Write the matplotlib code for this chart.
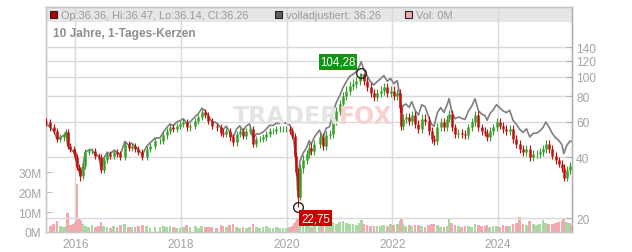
import matplotlib
matplotlib.use("Agg")
import matplotlib.pyplot as plt
from matplotlib.patches import Rectangle
import numpy as np
import pandas as pd

dates = [
    "2015-06-08", "2015-07-12", "2015-08-04", "2015-08-27", "2015-09-19", "2015-10-12", "2015-10-28", "2015-11-08",
    "2015-11-27", "2015-12-20", "2016-01-01", "2016-01-12", "2016-01-24", "2016-02-04", "2016-02-22", "2016-03-10",
    "2016-04-02", "2016-04-25", "2016-05-18", "2016-06-10", "2016-06-26", "2016-07-15", "2016-08-07", "2016-08-30",
    "2016-09-22", "2016-10-15", "2016-11-07", "2016-12-07", "2017-01-04", "2017-01-24", "2017-02-16", "2017-03-11",
    "2017-04-08", "2017-05-08", "2017-05-31", "2017-07-05", "2017-08-08", "2017-09-01", "2017-09-24", "2017-10-16",
    "2017-11-08", "2017-12-01", "2017-12-24", "2018-01-17", "2018-02-09", "2018-03-04", "2018-04-08", "2018-05-01",
    "2018-05-24", "2018-06-16", "2018-07-09", "2018-08-01", "2018-09-04", "2018-10-04", "2018-10-18", "2018-11-10",
    "2018-12-03", "2018-12-26", "2019-01-19", "2019-02-10", "2019-03-05", "2019-03-28", "2019-04-20", "2019-05-13",
    "2019-06-05", "2019-06-28", "2019-07-21", "2019-08-13", "2019-09-05", "2019-09-28", "2019-10-21", "2019-11-13",
    "2019-12-06", "2019-12-30", "2020-01-22", "2020-02-10", "2020-02-26", "2020-03-08", "2020-03-16", "2020-03-31",
    "2020-04-23", "2020-05-17", "2020-06-04", "2020-06-18", "2020-07-11", "2020-08-15", "2020-09-07", "2020-09-30",
    "2020-10-23", "2020-11-15", "2020-12-08", "2021-01-01", "2021-01-24", "2021-02-16", "2021-03-11", "2021-04-03",
    "2021-04-26", "2021-05-19", "2021-05-30", "2021-06-17", "2021-07-10", "2021-08-03", "2021-08-26", "2021-09-17",
    "2021-10-11", "2021-11-03", "2021-11-26", "2021-12-19", "2022-01-11", "2022-02-03", "2022-02-22", "2022-03-03",
    "2022-03-16", "2022-04-04", "2022-04-27", "2022-05-15", "2022-06-07", "2022-06-30", "2022-07-23", "2022-08-15",
    "2022-09-08", "2022-09-30", "2022-10-16", "2022-11-08", "2022-12-01", "2022-12-24", "2023-01-17", "2023-01-28",
    "2023-02-16", "2023-03-10", "2023-04-03", "2023-04-25", "2023-05-18", "2023-06-10", "2023-07-04", "2023-07-26",
    "2023-08-19", "2023-09-11", "2023-10-04", "2023-10-18", "2023-11-06", "2023-11-28", "2023-12-22", "2024-01-13",
    "2024-02-05", "2024-02-28", "2024-03-22", "2024-04-14", "2024-05-08", "2024-05-31", "2024-06-23", "2024-07-16",
    "2024-08-08", "2024-09-01", "2024-09-24", "2024-10-16", "2024-11-08", "2024-11-27", "2024-12-18", "2025-01-10",
    "2025-02-02", "2025-02-25", "2025-03-19", "2025-03-31", "2025-04-19", "2025-05-12", "2025-05-26",
]
close = [
    59.5, 56.2, 54.0, 49.2, 50.2, 51.2, 53.4, 45.6, 44.0, 42.4, 40.0, 35.9, 34.6, 32.4, 36.4, 42.4,
    43.1, 43.1, 40.8, 40.0, 34.6, 39.0, 41.5, 40.8, 42.4, 41.5, 40.0, 46.6, 44.7, 45.6, 44.0, 42.4,
    40.0, 44.0, 45.6, 48.0, 48.0, 51.3, 54.0, 56.2, 55.0, 57.4, 58.4, 59.5, 56.2, 57.4, 60.6, 63.0,
    66.7, 65.0, 60.6, 57.4, 56.2, 53.0, 52.0, 54.0, 50.2, 47.4, 52.0, 54.0, 51.0, 54.0, 55.2, 46.6,
    49.2, 49.2, 50.2, 52.0, 54.0, 54.0, 55.2, 55.2, 55.2, 55.2, 54.0, 51.0, 40.8, 34.0, 25.5, 35.3,
    39.0, 41.5, 44.7, 43.0, 46.6, 50.2, 45.6, 51.3, 52.0, 60.6, 67.8, 73.4, 80.2, 85.4, 90.4, 92.5,
    95.0, 101.0, 103.0, 95.0, 88.5, 82.8, 79.7, 82.8, 85.4, 88.5, 82.8, 85.4, 80.2, 82.8, 69.7, 57.3,
    62.0, 63.0, 60.6, 64.5, 58.4, 55.2, 62.0, 60.6, 54.0, 49.2, 48.2, 56.2, 59.5, 56.2, 62.0, 65.5,
    56.2, 52.0, 53.0, 52.0, 51.3, 56.2, 59.5, 64.5, 56.2, 54.0, 53.0, 50.2, 54.0, 56.2, 59.5, 57.4,
    55.2, 54.0, 55.2, 49.2, 46.6, 44.0, 42.4, 44.0, 40.0, 41.5, 41.5, 42.4, 44.0, 46.6, 44.0, 40.8,
    38.6, 37.2, 35.3, 31.8, 34.6, 36.4, 36.26,
]
high = [
    62.4, 61.6, 58.2, 55.9, 52.0, 53.0, 55.3, 55.3, 47.2, 45.5, 43.9, 41.4, 37.2, 35.8, 37.7, 43.9,
    44.6, 44.6, 44.6, 42.2, 41.4, 40.4, 43.0, 43.0, 43.9, 43.9, 43.0, 48.2, 48.2, 47.2, 47.2, 45.5,
    43.9, 45.5, 47.2, 49.7, 49.7, 53.1, 55.9, 58.2, 58.2, 59.4, 60.4, 61.6, 61.6, 59.4, 62.7, 65.2,
    69.0, 69.0, 67.3, 62.7, 59.4, 58.2, 54.9, 55.9, 55.9, 52.0, 53.8, 55.9, 55.9, 55.9, 57.1, 57.1,
    50.9, 50.9, 52.0, 53.8, 55.9, 55.9, 57.1, 57.1, 57.1, 57.1, 57.1, 55.9, 52.8, 42.6, 35.5, 37.0,
    41.0, 43.6, 46.9, 46.9, 48.9, 52.7, 52.7, 53.9, 54.6, 63.6, 71.2, 77.1, 84.2, 89.7, 94.9, 97.1,
    99.8, 104.0, 104.28, 104.0, 99.8, 92.9, 86.9, 86.9, 89.7, 92.9, 92.9, 89.7, 89.7, 86.9, 86.9, 73.2,
    65.1, 66.2, 66.2, 67.7, 67.7, 61.3, 65.1, 65.1, 63.6, 56.7, 51.7, 59.0, 62.2, 62.2, 64.8, 68.4,
    68.4, 58.7, 55.4, 55.4, 54.3, 58.7, 62.2, 67.4, 67.4, 58.7, 56.4, 55.4, 56.4, 58.7, 62.2, 62.2,
    60.0, 57.7, 57.7, 57.7, 51.4, 48.7, 46.0, 46.0, 46.0, 43.4, 43.4, 44.3, 46.0, 48.7, 48.7, 46.0,
    42.6, 40.3, 38.9, 36.9, 36.2, 38.0, 36.47,
]
low = [
    57.3, 54.2, 52.1, 47.5, 47.5, 48.4, 49.4, 44.0, 42.5, 40.9, 38.6, 34.6, 33.4, 30.5, 31.3, 35.1,
    40.9, 41.6, 39.4, 38.6, 33.4, 33.4, 37.6, 39.4, 39.4, 40.0, 38.6, 38.6, 43.1, 43.1, 42.5, 40.9,
    38.6, 38.6, 42.5, 44.0, 46.3, 46.3, 49.5, 52.1, 53.1, 53.1, 55.4, 56.4, 54.2, 54.2, 55.4, 58.5,
    60.8, 62.7, 58.5, 55.4, 54.2, 51.1, 50.2, 50.2, 48.4, 45.7, 45.7, 50.2, 49.2, 49.2, 52.1, 45.0,
    45.0, 47.5, 47.5, 48.4, 50.2, 52.1, 52.1, 53.3, 53.3, 53.3, 52.1, 49.2, 39.0, 32.3, 22.75, 24.5,
    33.5, 37.1, 39.6, 41.1, 41.1, 44.5, 43.5, 43.5, 49.0, 49.7, 57.9, 64.7, 70.1, 76.6, 81.6, 86.3,
    88.3, 90.7, 96.5, 90.7, 84.5, 79.1, 76.1, 76.1, 79.1, 81.6, 79.1, 79.1, 76.6, 76.6, 66.6, 54.7,
    54.7, 59.2, 57.9, 57.9, 55.8, 52.7, 52.7, 57.9, 51.6, 47.0, 46.0, 46.0, 54.0, 54.0, 54.0, 59.5,
    54.0, 49.9, 49.9, 49.9, 49.2, 49.2, 54.0, 57.1, 54.0, 51.8, 50.9, 48.2, 48.2, 51.8, 54.0, 55.1,
    53.0, 51.8, 51.8, 47.2, 44.7, 42.2, 40.7, 40.7, 38.4, 38.4, 39.8, 39.8, 40.7, 42.2, 42.2, 39.2,
    37.1, 35.7, 33.9, 30.5, 30.5, 33.2, 36.14,
]
adjusted = [
    59.5, 56.2, 54.0, 49.2, 50.2, 51.2, 53.4, 45.6, 44.0, 42.4, 40.0, 35.9, 34.6, 32.4, 36.4, 42.6,
    43.4, 43.5, 41.3, 40.5, 35.1, 39.6, 42.2, 41.6, 43.3, 42.5, 41.1, 47.9, 46.0, 47.0, 45.3, 43.7,
    41.2, 45.4, 47.1, 49.8, 49.9, 53.4, 56.2, 58.4, 57.2, 59.7, 60.7, 62.0, 58.6, 59.9, 63.4, 65.9,
    69.8, 68.0, 63.6, 60.3, 59.0, 55.9, 54.9, 57.0, 53.0, 50.1, 55.0, 57.2, 54.1, 57.2, 58.5, 49.4,
    52.2, 52.2, 53.3, 55.2, 57.5, 57.5, 58.8, 58.8, 59.0, 59.0, 57.8, 54.6, 43.7, 36.4, 27.3, 37.9,
    41.9, 44.6, 48.3, 46.4, 50.4, 54.5, 49.5, 55.7, 56.6, 66.1, 74.2, 80.4, 88.2, 94.4, 100.3, 102.7,
    106.0, 113.1, 118.4, 108.3, 101.0, 94.4, 91.0, 94.6, 97.6, 101.2, 94.9, 98.0, 92.4, 95.6, 80.8, 66.5,
    72.0, 73.3, 70.6, 75.2, 68.2, 64.6, 72.7, 71.1, 63.5, 58.0, 56.9, 66.4, 70.4, 66.6, 73.6, 77.9,
    66.9, 62.0, 63.3, 62.3, 61.5, 67.5, 71.6, 77.8, 67.9, 65.3, 64.2, 60.9, 65.7, 68.5, 72.7, 70.3,
    67.8, 66.5, 68.2, 61.0, 58.0, 54.9, 53.1, 55.3, 50.4, 52.5, 52.6, 53.9, 56.2, 59.7, 56.5, 52.6,
    50.0, 48.4, 46.1, 41.7, 45.5, 48.1, 47.9,
]
volume_m = [
    3.5, 2.8, 4.0, 5.5, 3.2, 2.6, 3.0, 9.5, 3.4, 4.2, 5.0, 24.0, 6.5, 5.8, 4.1, 3.0,
    2.7, 3.3, 2.5, 3.0, 5.2, 3.1, 2.4, 2.2, 2.9, 2.6, 3.5, 3.8, 2.7, 2.5, 2.4, 3.0,
    3.6, 2.8, 2.2, 2.6, 2.3, 2.9, 2.4, 3.1, 2.5, 2.2, 2.0, 2.6, 3.4, 2.3, 2.8, 2.2,
    3.0, 2.5, 2.7, 2.4, 2.0, 3.5, 2.8, 2.6, 3.3, 3.9, 2.5, 2.2, 2.6, 2.0, 2.3, 4.0,
    2.4, 2.1, 2.5, 2.8, 2.2, 2.0, 2.3, 1.9, 2.1, 2.0, 2.4, 2.8, 4.5, 5.5, 7.0, 4.8,
    3.5, 3.0, 3.3, 2.7, 2.8, 3.1, 2.9, 3.6, 3.2, 5.0, 4.2, 4.8, 5.5, 4.6, 4.0, 3.8,
    3.5, 4.4, 6.0, 4.1, 3.6, 3.2, 2.8, 3.1, 2.9, 3.4, 3.0, 3.8, 3.3, 3.9, 5.5, 6.5,
    4.0, 3.2, 3.5, 2.9, 3.3, 3.6, 2.8, 2.6, 3.4, 4.0, 3.8, 3.3, 2.7, 2.5, 3.2, 6.5,
    4.5, 3.6, 2.9, 2.6, 2.8, 3.0, 2.7, 3.9, 3.4, 2.8, 3.1, 3.5, 2.6, 2.9, 3.2, 2.7,
    3.3, 3.0, 2.9, 3.8, 4.5, 7.5, 4.0, 3.6, 5.5, 3.8, 3.5, 4.2, 5.8, 4.6, 4.0, 3.9,
    4.4, 5.0, 5.6, 7.0, 5.2, 4.6, 3.5,
]
first_open = 60.2

high_date, high_val, high_label = "2021-05-30", 104.28, "104,28"
low_date, low_val, low_label = "2020-03-16", 22.75, "22,75"

year_ticks = ["2016-01-01", "2018-01-01", "2020-01-01", "2022-01-01", "2024-01-01"]
year_labels = ["2016", "2018", "2020", "2022", "2024"]
price_ticks = [20, 40, 60, 80, 100, 120, 140]
vol_ticks = [0, 10, 20, 30]
vol_labels = ["0M", "10M", "20M", "30M"]

legend_ohlc = "Op:36.36, Hi:36.47, Lo:36.14, Cl:36.26"
legend_adj = "volladjustiert: 36.26"
legend_vol = "Vol: 0M"
subtitle = "10 Jahre, 1-Tages-Kerzen"

plt.rcParams['font.family'] = ['Liberation Sans', 'DejaVu Sans']

W, H = 632, 253
RED = '#c40d0d'
GREEN = '#36a12a'
TICK = '#a3a3a3'
GRID = '#dadada'


def fx(x):
    return x / W


def fy(y):
    return 1 - y / H


d = pd.to_datetime(dates)
c = np.array(close)
o = np.array([first_open] + close[:-1])
up = c >= o
body_lo = np.minimum(o, c)
body_hi = np.maximum(o, c)
ccol = np.where(up, GREEN, RED)

fig = plt.figure(figsize=(W / 100, H / 100), dpi=100)
ax = fig.add_axes([fx(45.5), fy(233), fx(572 - 45.5), (233 - 8) / H])

# Volumen (linke Achse)
vcol = np.where(up, '#a9d9a2', '#f2a9ad')
ax.bar(d, volume_m, width=19, color=vcol, linewidth=0, zorder=1)
ax.set_ylim(0, 112.5)
ax.set_yticks(vol_ticks)
ax.set_yticklabels(vol_labels)
ax.set_axisbelow(True)
ax.grid(axis='x', color=GRID, linewidth=1, zorder=0.5)

# Kopfzeile
ax.add_patch(Rectangle((0, 1 - 15 / 225), 1, 15 / 225, transform=ax.transAxes,
                       facecolor='#e6e6e6', edgecolor='none', zorder=0.2))

# Kurs (rechte Achse, logarithmisch)
axp = ax.twinx()
axp.set_yscale('log')
axp.set_ylim(17.12, 220.7)
axp.grid(axis='y', color=GRID, linewidth=1)
axp.set_axisbelow(True)
axp.plot(d, adjusted, color='#7e7e7e', linewidth=1.2, zorder=2)
axp.vlines(d, low, high, colors=ccol, linewidth=0.8, zorder=3)
axp.vlines(d, body_lo, body_hi, colors=ccol, linewidth=1.8, zorder=3)

hd = pd.Timestamp(high_date)
ld = pd.Timestamp(low_date)
axp.plot([hd, ld], [high_val, low_val], 'o', markersize=7, markerfacecolor='none',
         markeredgecolor='#222222', markeredgewidth=1.0, zorder=4)

axp.annotate(high_label, (hd, high_val), xytext=(-4, 8), textcoords='offset points',
             ha='right', va='center', color='white', fontsize=8.3,
             bbox=dict(boxstyle='square,pad=0.15', facecolor='#139513', edgecolor='none'), zorder=5)
axp.annotate(low_label, (ld, low_val), xytext=(2.5, -8), textcoords='offset points',
             ha='left', va='center', color='white', fontsize=8.3,
             bbox=dict(boxstyle='square,pad=0.15', facecolor='#cc0000', edgecolor='none'), zorder=5)

axp.set_yticks(price_ticks)
axp.set_yticklabels([str(t) for t in price_ticks])
axp.yaxis.set_minor_locator(matplotlib.ticker.NullLocator())

ax.set_xlim(pd.Timestamp("2015-06-08"), pd.Timestamp("2025-05-27"))
ax.set_xticks(pd.to_datetime(year_ticks))
ax.set_xticklabels(year_labels)

for a in (ax, axp):
    for s in a.spines.values():
        s.set_color('#c8c8c8')
        s.set_linewidth(1)
axp.spines['right'].set_color('#b0b0b0')

ax.tick_params(axis='x', length=0, pad=4, labelsize=8.6, labelcolor=TICK)
ax.tick_params(axis='y', direction='in', length=4, color='#c0c0c0', pad=3,
               labelsize=8.6, labelcolor=TICK)
axp.tick_params(axis='y', direction='in', length=4, color='#b0b0b0', pad=3,
                labelsize=8.6, labelcolor=TICK)

# Wasserzeichen
fig.text(fx(339), fy(117), "TRADER", ha='right', va='center', fontsize=17,
         fontweight='bold', family='DejaVu Sans', color='#e4e4e4', zorder=1.5)
fig.text(fx(339), fy(117), "FOX", ha='left', va='center', fontsize=17,
         fontweight='bold', family='DejaVu Sans', color='#f8d2d2', zorder=1.5)

# Legende
for x0, fc in [(50, '#b00000'), (274.5, '#5f5f5f'), (405, '#f2a9ad')]:
    fig.add_artist(Rectangle((fx(x0), fy(19)), 7 / W, 7 / H, transform=fig.transFigure,
                             facecolor=fc, edgecolor='#222222', linewidth=0.8))
fig.text(fx(61), fy(16), legend_ohlc, va='center', fontsize=7.9, color='#9a9a9a')
fig.text(fx(285.5), fy(16), legend_adj, va='center', fontsize=7.9, color='#9a9a9a')
fig.text(fx(416), fy(16), legend_vol, va='center', fontsize=7.9, color='#9a9a9a')
fig.text(fx(53), fy(34), subtitle, va='center', fontsize=8.6, fontweight='bold', color='#8e8e8e')

fig.savefig("out.png", dpi=100)
